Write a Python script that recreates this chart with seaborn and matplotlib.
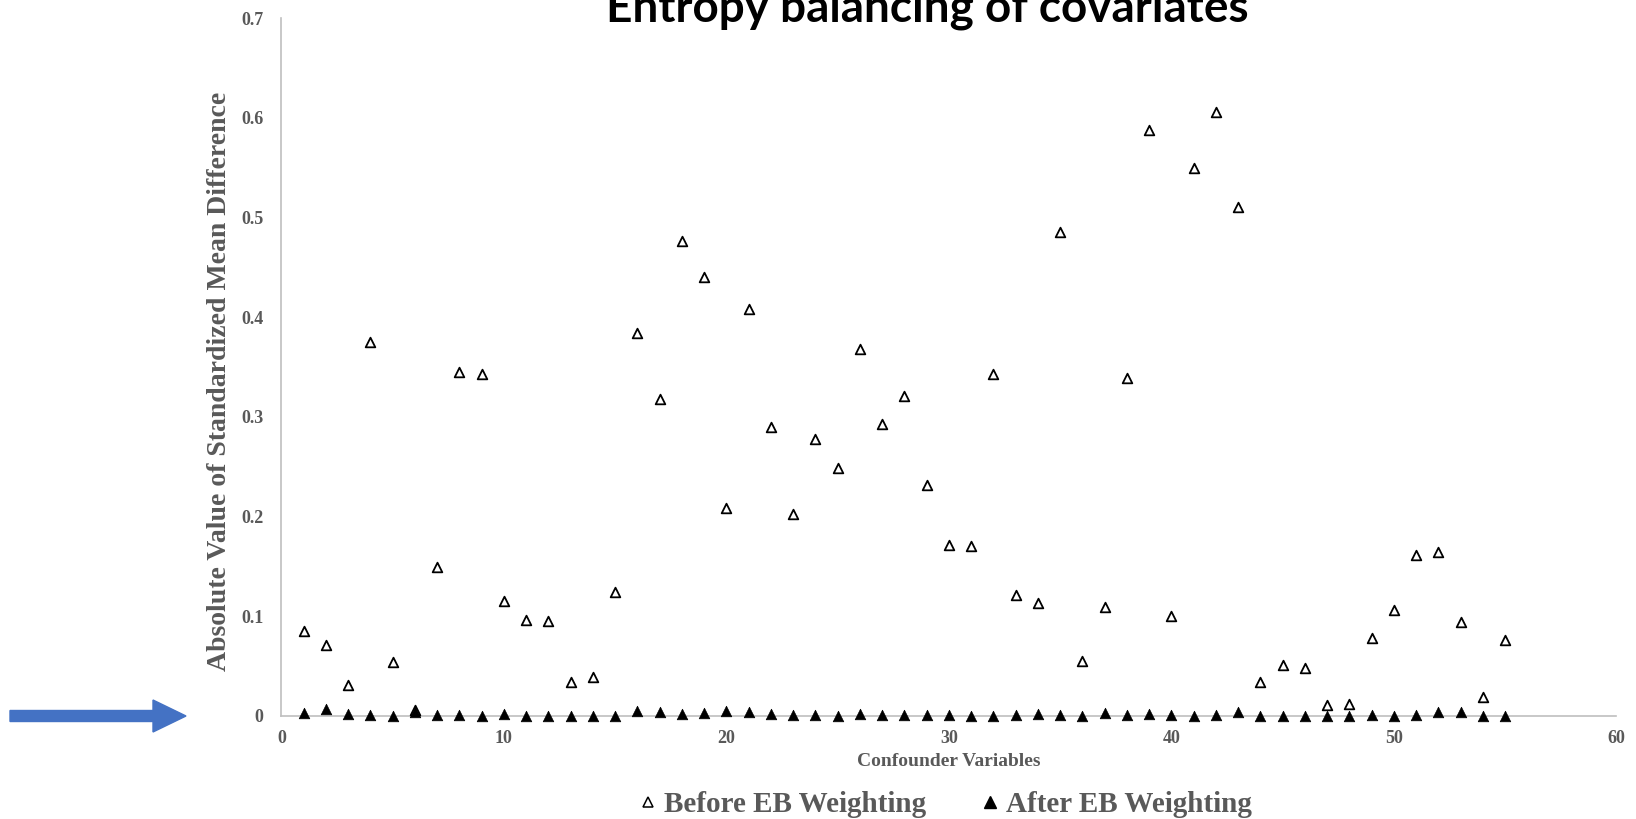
import numpy as np
import pandas as pd
import matplotlib
matplotlib.use("Agg")
import matplotlib.pyplot as plt
import seaborn as sns
from matplotlib.patches import FancyArrow
from matplotlib.transforms import IdentityTransform
from matplotlib.lines import Line2D

variables = list(range(1, 56))
before_eb = [0.085, 0.071, 0.031, 0.375, 0.054, 0.006, 0.149, 0.345, 0.343, 0.115,
             0.096, 0.095, 0.034, 0.039, 0.124, 0.384, 0.318, 0.476, 0.440, 0.208,
             0.408, 0.290, 0.202, 0.278, 0.249, 0.368, 0.293, 0.321, 0.232, 0.171,
             0.170, 0.343, 0.121, 0.113, 0.485, 0.055, 0.109, 0.339, 0.588, 0.100,
             0.550, 0.606, 0.510, 0.034, 0.051, 0.048, 0.011, 0.012, 0.078, 0.106,
             0.161, 0.164, 0.094, 0.019, 0.076]
after_eb = [0.003, 0.007, 0.002, 0.001, 0.000, 0.004, 0.001, 0.001, 0.000, 0.002,
            0.000, 0.000, 0.000, 0.000, 0.000, 0.005, 0.004, 0.002, 0.003, 0.005,
            0.004, 0.002, 0.001, 0.001, 0.000, 0.002, 0.001, 0.001, 0.001, 0.001,
            0.000, 0.000, 0.001, 0.002, 0.001, 0.000, 0.003, 0.001, 0.002, 0.001,
            0.000, 0.001, 0.004, 0.000, 0.000, 0.000, 0.000, 0.000, 0.001, 0.000,
            0.001, 0.004, 0.004, 0.000, 0.000]
series_labels = ["Before EB Weighting", "After EB Weighting"]
title_text = "Entropy balancing of covariates"
x_label = "Confounder Variables"
y_label = "Absolute Value of Standardized Mean Difference"
x_ticks = [0, 10, 20, 30, 40, 50, 60]
y_ticks = [0, 0.1, 0.2, 0.3, 0.4, 0.5, 0.6, 0.7]
y_tick_labels = ["0", "0.1", "0.2", "0.3", "0.4", "0.5", "0.6", "0.7"]

df_before = pd.DataFrame({"var": variables, "smd": before_eb})
df_after = pd.DataFrame({"var": variables, "smd": after_eb})

sns.set_theme(style="white")
plt.rcParams["font.family"] = ["Liberation Serif", "DejaVu Serif"]

GRAY = "#595959"
SPINE = "#BFBFBF"

fig = plt.figure(figsize=(16.36, 8.19), dpi=100)
ax = fig.add_axes([0.172, 0.126, 0.816, 0.852])

sns.scatterplot(data=df_before, x="var", y="smd", ax=ax, marker="^", s=48,
                facecolor="white", edgecolor="black", linewidth=1.3, zorder=3,
                clip_on=False)
sns.scatterplot(data=df_after, x="var", y="smd", ax=ax, marker="^", s=58,
                color="black", edgecolor="black", linewidth=0.5, zorder=4,
                clip_on=False)

ax.set_xlim(0, 60)
ax.set_ylim(0, 0.7)
ax.set_xticks(x_ticks)
ax.set_xticklabels([str(t) for t in x_ticks])
ax.set_yticks(y_ticks)
ax.set_yticklabels(y_tick_labels)
ax.tick_params(axis="both", length=0, labelsize=13, labelcolor=GRAY)
ax.tick_params(axis="y", pad=13)
ax.tick_params(axis="x", pad=10)
for lab in ax.get_xticklabels() + ax.get_yticklabels():
    lab.set_fontweight("bold")

for side in ["top", "right"]:
    ax.spines[side].set_visible(False)
for side in ["left", "bottom"]:
    ax.spines[side].set_color(SPINE)
    ax.spines[side].set_linewidth(1.2)
    ax.spines[side].set_zorder(1)
ax.grid(False)

ax.set_xlabel(x_label, fontsize=14, fontweight="bold", color=GRAY)
ax.xaxis.set_label_coords(0.5, -0.054)
ax.xaxis.label.set_va("top")
ax.set_ylabel(y_label, fontsize=20, fontweight="bold", color=GRAY)
ax.yaxis.set_label_coords(-0.037, 0.479)

handles = [
    Line2D([], [], linestyle="none", marker="^", markersize=7, markerfacecolor="white",
           markeredgecolor="black", markeredgewidth=1.1),
    Line2D([], [], linestyle="none", marker="^", markersize=8, markerfacecolor="black",
           markeredgecolor="black"),
]
leg = fig.legend(handles, series_labels, loc="center", bbox_to_anchor=(0.578, 0.018),
                 ncol=2, frameon=False, handlelength=0.6, handletextpad=0.25,
                 columnspacing=1.9,
                 prop={"family": ["Liberation Serif"], "weight": "bold", "size": 21})
for t in leg.get_texts():
    t.set_color(GRAY)

fig.text(0.567, 0.974, title_text, ha="center", va="baseline",
         fontsize=33, fontweight="bold", family=["Lato", "DejaVu Sans"], color="black")

arrow = FancyArrow(10, 819 - 716, 143, 0, width=11, head_width=32, head_length=33,
                   length_includes_head=False, color="#4472C4",
                   transform=IdentityTransform())
fig.add_artist(arrow)

fig.savefig("out.png", dpi=100)
